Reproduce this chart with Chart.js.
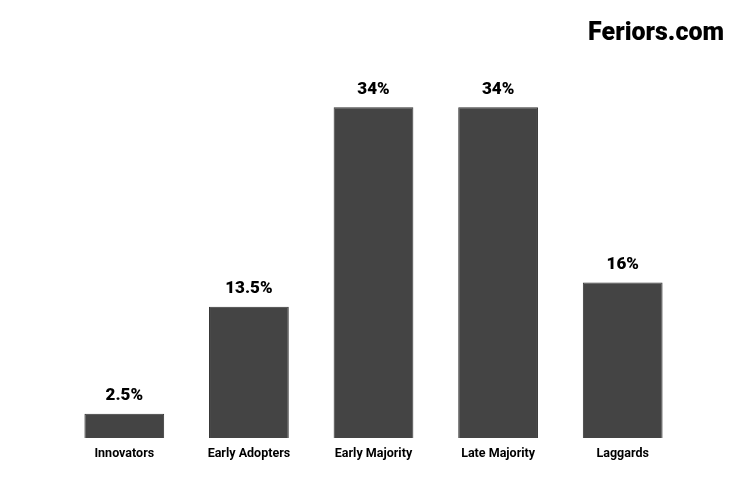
<!DOCTYPE html>
<html>
<head>
<meta charset="utf-8">
<script src="https://cdn.jsdelivr.net/npm/chart.js@4"></script>
<style>
  html, body { margin: 0; padding: 0; background: #fff; }
  #wrap { width: 750px; height: 500px; }
</style>
</head>
<body>
<div id="wrap"><canvas id="adoptionChart"></canvas></div>
<script>
const categories = ['Innovators', 'Early Adopters', 'Early Majority', 'Late Majority', 'Laggards'];
const shares = [2.5, 13.5, 34, 34, 16];

// value labels above the bars + site name top right
const labelPlugin = {
    id: 'labels',
    afterDatasetsDraw(chart) {
        const ctx = chart.ctx;
        const meta = chart.getDatasetMeta(0);
        ctx.save();
        ctx.fillStyle = '#000';
        ctx.font = '900 17px Roboto';
        ctx.textAlign = 'center';
        ctx.textBaseline = 'middle';
        meta.data.forEach((bar, i) => {
            ctx.fillText(shares[i] + '%', bar.x, bar.y - 18);
        });
        ctx.restore();
    },
    afterDraw(chart) {
        const ctx = chart.ctx;
        ctx.save();
        ctx.fillStyle = '#000';
        ctx.font = '900 25px Roboto';
        ctx.textAlign = 'right';
        ctx.textBaseline = 'middle';
        ctx.fillText('Feriors.com', 724, 34);
        ctx.restore();
    }
};

const ctx = document.getElementById('adoptionChart').getContext('2d');
new Chart(ctx, {
    type: 'bar',
    data: {
        labels: categories,
        datasets: [{
            data: shares,
            backgroundColor: '#444444',
            borderColor: '#333333',
            borderWidth: 1,
            barPercentage: 0.8,
            categoryPercentage: 0.8
        }]
    },
    options: {
        responsive: true,
        maintainAspectRatio: false,
        animation: false,
        layout: {
            padding: { left: 62, right: 65, top: 49, bottom: 31 }
        },
        plugins: {
            legend: { display: false },
            tooltip: { enabled: false }
        },
        scales: {
            x: {
                grid: { display: false, drawTicks: false },
                border: { display: false },
                ticks: {
                    color: '#000',
                    padding: 8,
                    font: { family: 'Roboto', weight: 'bold', size: 12.5 }
                }
            },
            y: {
                display: false,
                min: 0,
                max: 40
            }
        }
    },
    plugins: [labelPlugin]
});
</script>
</body>
</html>
